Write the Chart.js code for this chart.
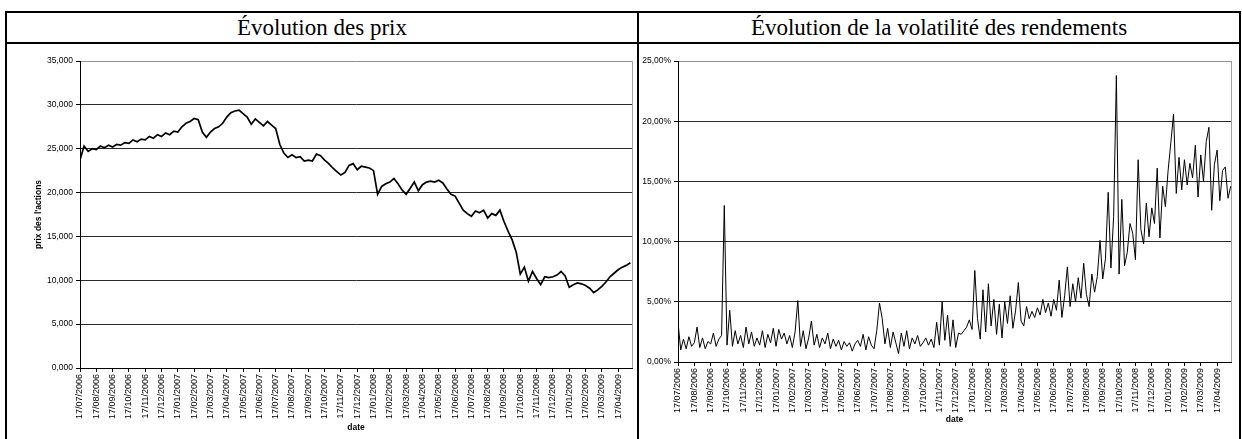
<!DOCTYPE html>
<html>
<head>
<meta charset="utf-8">
<script src="https://cdn.jsdelivr.net/npm/chart.js@4.4.1/dist/chart.umd.min.js"></script>
<style>
    body { margin: 0; background: #fff; width: 1242px; height: 439px; overflow: hidden; position: relative; }
    .b { position: absolute; background: #000; }
    .title { position: absolute; top: 13px; height: 29px; line-height: 30px; text-align: center;
             font-family: "Liberation Serif", "Times New Roman", serif; font-size: 23px; color: #000; }
    canvas { position: absolute; }
</style>
</head>
<body>
<div class="b" style="left:5px;top:11px;width:1236px;height:2px"></div>
<div class="b" style="left:5px;top:42px;width:1236px;height:2px"></div>
<div class="b" style="left:5px;top:11px;width:2px;height:428px"></div>
<div class="b" style="left:637px;top:11px;width:2px;height:428px"></div>
<div class="b" style="left:1239px;top:11px;width:2px;height:428px"></div>
<div class="title" style="left:7px;width:630px">Évolution des prix</div>
<div class="title" style="left:639px;width:600px">Évolution de la volatilité des rendements</div>
<canvas id="prixChart" width="630" height="394" style="left:7px;top:45px"></canvas>
<canvas id="volChart" width="600" height="394" style="left:639px;top:45px"></canvas>

<script>
// Monthly tick labels (category axis of the original)
const monthLabels = [
    '17/07/2006', '17/08/2006', '17/09/2006', '17/10/2006', '17/11/2006', '17/12/2006',
    '17/01/2007', '17/02/2007', '17/03/2007', '17/04/2007', '17/05/2007', '17/06/2007',
    '17/07/2007', '17/08/2007', '17/09/2007', '17/10/2007', '17/11/2007', '17/12/2007',
    '17/01/2008', '17/02/2008', '17/03/2008', '17/04/2008', '17/05/2008', '17/06/2008',
    '17/07/2008', '17/08/2008', '17/09/2008', '17/10/2008', '17/11/2008', '17/12/2008',
    '17/01/2009', '17/02/2009', '17/03/2009', '17/04/2009'
];

// Share price, 4 readings per month
const prixPerMonth = 4;
const prix = [
    23.7, 25.3, 24.7, 25.0,   24.9, 25.3, 25.1, 25.4,   25.2, 25.5, 25.4, 25.7,
    25.6, 26.0, 25.8, 26.1,   26.0, 26.4, 26.2, 26.6,   26.4, 26.8, 26.6, 27.0,
    26.9, 27.5, 27.9, 28.1,   28.45, 28.3, 26.9, 26.3,  26.9, 27.3, 27.5, 27.9,
    28.6, 29.1, 29.3, 29.4,   29.0, 28.6, 27.8, 28.4,   28.0, 27.6, 28.1, 27.7,
    27.3, 25.5, 24.5, 24.0,   24.3, 24.0, 24.1, 23.6,   23.7, 23.6, 24.4, 24.2,
    23.7, 23.3, 22.8, 22.4,   22.0, 22.3, 23.1, 23.3,   22.6, 23.0, 22.9, 22.8,
    22.5, 19.8, 20.7, 21.0,   21.2, 21.6, 21.0, 20.3,   19.8, 20.5, 21.2, 20.2,
    20.9, 21.2, 21.3, 21.2,   21.4, 21.1, 20.4, 19.8,   19.6, 18.8, 18.0, 17.6,
    17.3, 17.9, 17.7, 18.0,   17.1, 17.6, 17.4, 18.0,   16.7, 15.6, 14.6, 13.2,
    10.7, 11.5, 9.9, 11.0,    10.2, 9.5, 10.4, 10.3,    10.4, 10.6, 11.0, 10.5,
    9.2, 9.5, 9.7, 9.6,       9.4, 9.1, 8.6, 8.9,       9.3, 9.8, 10.4, 10.8,
    11.2, 11.5, 11.7, 12.0
];
const prixTicks = [0, 5, 10, 15, 20, 25, 30, 35];

// Volatility of returns (%), 6 readings per month
const volPerMonth = 6;
const volatilite = [
    3.3, 1.0, 1.9, 1.1, 2.1, 1.3,    1.6, 2.9, 1.2, 2.0, 1.1, 1.7,
    1.5, 2.4, 1.3, 1.9, 2.2, 13.0,   1.4, 4.3, 1.3, 2.6, 1.5, 2.2,
    1.2, 2.9, 1.5, 2.5, 1.3, 2.0,    1.4, 2.6, 1.2, 2.3, 1.6, 2.8,
    1.3, 2.7, 1.9, 2.4, 1.5, 2.2,    1.2, 2.5, 5.1, 1.3, 2.6, 1.1,
    2.0, 3.4, 1.4, 2.3, 1.2, 2.0,    1.5, 2.4, 1.1, 1.9, 1.3, 1.8,
    1.0, 1.7, 1.3, 1.6, 0.9, 1.5,    1.8, 1.3, 2.3, 1.0, 2.1, 1.4,
    1.1, 2.6, 4.9, 3.6, 1.5, 2.8,    1.2, 2.5, 1.6, 0.7, 2.4, 1.3,
    2.6, 1.1, 2.0, 1.5, 2.2, 1.3,    1.6, 2.0, 1.4, 1.9, 1.2, 3.3,
    1.4, 5.0, 1.8, 3.9, 1.3, 3.5,    1.2, 2.4, 2.3, 2.6, 2.9, 3.5,
    2.7, 7.6, 3.6, 1.9, 6.0, 2.5,    6.5, 3.0, 5.2, 2.3, 4.8, 2.0,
    5.0, 3.2, 5.5, 2.8, 4.3, 6.6,    3.4, 3.0, 4.6, 3.6, 4.2, 3.7,
    4.5, 3.9, 5.2, 4.1, 4.9, 3.8,    5.2, 4.3, 6.8, 3.7, 5.5, 7.9,
    4.6, 6.5, 5.0, 7.0, 5.3, 8.2,    5.6, 4.6, 7.3, 5.8, 7.1, 10.1,
    6.9, 8.6, 14.1, 7.8, 12.1, 23.8, 7.3, 13.5, 8.0, 9.1, 11.5, 10.7,
    8.5, 16.8, 11.0, 9.8, 13.2, 10.4, 12.8, 11.5, 16.1, 10.3, 14.6, 12.9,
    15.9, 18.2, 20.6, 14.0, 17.0, 14.3, 16.8, 14.7, 16.5, 15.3, 18.0, 13.7,
    17.2, 15.0, 18.3, 19.5, 12.6, 16.4, 17.6, 13.4, 15.9, 16.2, 13.6, 14.6
];
const volTicks = [0, 5, 10, 15, 20, 25];

const sans = '"Liberation Sans", Arial, sans-serif';
const dateFont = { family: sans, size: 9 };
const valueFont = { family: sans, size: 8.5 };
const titleFont = { family: sans, size: 8.5, weight: 'bold' };

// gray frame on the right side of the plot area (Excel style)
const plotFrame = {
    id: 'plotFrame',
    afterDraw(chart) {
        const { ctx, chartArea: a } = chart;
        ctx.save();
        ctx.strokeStyle = '#a0a0a0';
        ctx.lineWidth = 1;
        ctx.beginPath();
        ctx.moveTo(Math.round(a.right) + 0.5, a.top);
        ctx.lineTo(Math.round(a.right) + 0.5, a.bottom);
        ctx.stroke();
        ctx.restore();
    }
};

const dateAxis = (height, titlePad) => ({
    type: 'linear',
    min: 0,
    max: 33.85,
    afterBuildTicks: s => { s.ticks = monthLabels.map((_, i) => ({ value: i })); },
    afterFit: s => { s.height = height; },
    ticks: {
        autoSkip: false, minRotation: 90, maxRotation: 90, padding: 2,
        color: '#000', font: dateFont,
        callback: (v, i) => monthLabels[i]
    },
    grid: { drawOnChartArea: false, drawTicks: true, tickLength: 4, tickColor: '#000' },
    border: { color: '#000', width: 1 },
    title: { display: true, text: 'date', color: '#000', font: titleFont, padding: { top: 0, bottom: titlePad } }
});

const gridColor = top => ctx => (ctx.tick && ctx.tick.value === top ? '#909090' : '#2a2a2a');

new Chart(document.getElementById('prixChart'), {
    type: 'line',
    data: {
        datasets: [{
            data: prix.map((v, i) => ({ x: i / prixPerMonth, y: v })),
            borderColor: '#000',
            borderWidth: 1.7,
            pointRadius: 0,
            tension: 0,
            fill: false
        }]
    },
    options: {
        responsive: false,
        animation: false,
        layout: { padding: { top: 16, right: 5, left: 0, bottom: 0 } },
        plugins: { legend: { display: false }, tooltip: { enabled: false } },
        scales: {
            x: dateAxis(71, 6),
            y: {
                min: 0, max: 35,
                afterBuildTicks: s => { s.ticks = prixTicks.map(v => ({ value: v })); },
                afterFit: s => { s.width = 73; },
                ticks: { color: '#000', font: valueFont, padding: 3, callback: v => v.toFixed(3).replace('.', ',') },
                grid: { color: gridColor(35), tickLength: 4, tickColor: '#000' },
                border: { color: '#000', width: 1 },
                title: { display: true, text: "prix des l'actions", color: '#000', font: titleFont, padding: { top: 27, bottom: 0 } }
            }
        }
    },
    plugins: [plotFrame]
});

new Chart(document.getElementById('volChart'), {
    type: 'line',
    data: {
        datasets: [{
            data: volatilite.map((v, i) => ({ x: i / volPerMonth, y: v })),
            borderColor: '#000',
            borderWidth: 1,
            pointRadius: 0,
            tension: 0,
            fill: false
        }]
    },
    options: {
        responsive: false,
        animation: false,
        layout: { padding: { top: 16, right: 8, left: 0, bottom: 0 } },
        plugins: { legend: { display: false }, tooltip: { enabled: false } },
        scales: {
            x: dateAxis(77, 14),
            y: {
                min: 0, max: 25,
                afterBuildTicks: s => { s.ticks = volTicks.map(v => ({ value: v })); },
                afterFit: s => { s.width = 39; },
                ticks: { color: '#000', font: valueFont, padding: 3, callback: v => v.toFixed(2).replace('.', ',') + '%' },
                grid: { color: gridColor(25), tickLength: 4, tickColor: '#000' },
                border: { color: '#000', width: 1 }
            }
        }
    },
    plugins: [plotFrame]
});
</script>
</body>
</html>
